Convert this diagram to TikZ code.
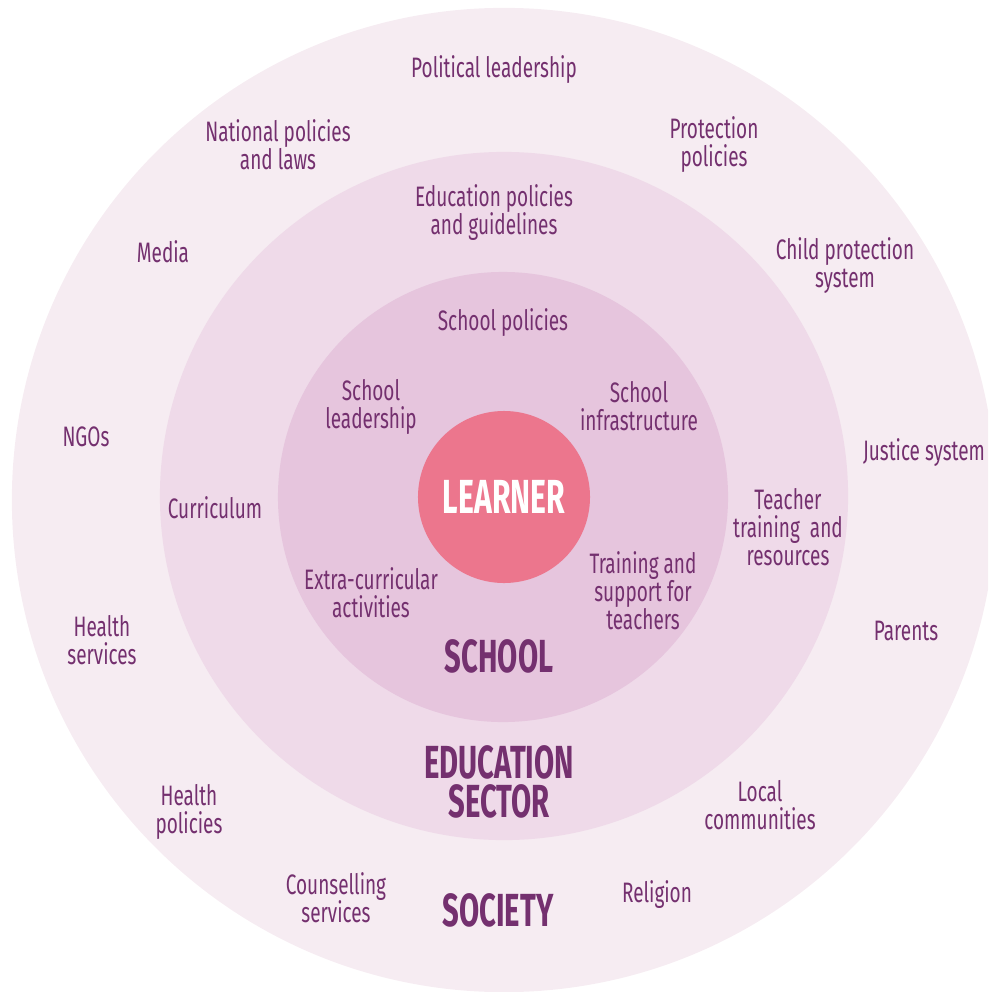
\documentclass[tikz,border=0pt]{standalone}
\usepackage{fontspec}
\setmainfont{Fira Sans}[FakeStretch=0.675]
\newfontfamily\headfont{Fira Sans}[FakeStretch=0.63]
\usetikzlibrary{positioning}
\definecolor{plum}{RGB}{116,48,111}
\definecolor{societypink}{RGB}{246,236,242}
\definecolor{sectorpink}{RGB}{239,218,233}
\definecolor{schoolpink}{RGB}{230,197,221}
\definecolor{learnerpink}{RGB}{236,118,141}
\tikzset{
    base/.style={
        circle,
        draw=none,
        inner sep=0pt,
    },
    % Society
    society/.style={
        base,
        fill=societypink,
        minimum size=24.6cm,
    },
    % Education sector
    sector/.style={
        base,
        fill=sectorpink,
        minimum size=17.2cm,
    },
    % School
    school/.style={
        base,
        fill=schoolpink,
        minimum size=11.25cm,
    },
    % Learner
    learner/.style={
        base,
        fill=learnerpink,
        minimum size=4.3cm,
        text=white,
        font={\headfont\bfseries\fontsize{34}{34}\selectfont},
    },
    % Factor
    factor/.style={
        text=plum,
        align=center,
        inner sep=0pt,
        font={\fontsize{20}{19.9}\selectfont},
    },
    % Level
    level/.style={
        text=plum,
        align=center,
        inner sep=0pt,
        font={\headfont\bfseries\fontsize{33}{28.2}\selectfont},
    },
}

\begin{document}
\begin{tikzpicture}[x=0.025cm,y=-0.025cm]
    \useasboundingbox (0,0) rectangle (988,992);
    \clip (0,0) rectangle (988,992);
%RINGS_BEGIN%
    \node[society] (soc) at (504,500) {};
    \node[sector] (sec) at (504,496) {};
    \node[school] (sch) at (503,497) {};
    \node[learner] (lrn) at (504,497) {LEARNER};
%RINGS_END%

%SOCIETY_BEGIN%
    \node[factor] (pol) at (494,70) {Political leadership};
    \node[factor] (nat) at (278,145) {National policies\\and laws};
    \node[factor] (pro) at (714,145) {Protection\\policies};
    \node[factor] (med) at (163,252) {Media};
    \node[factor] (cps) at (845,266) {Child protection\\system};
    \node[factor] (ngo) at (86,437) {NGOs};
    \node[factor] (jus) at (924,453) {Justice system};
    \node[factor] (hse) at (102,640) {Health\\services};
    \node[factor] (par) at (906,631) {Parents};
    \node[factor] (hpo) at (189,812) {Health\\policies};
    \node[factor] (loc) at (760,805) {Local\\communities};
    \node[factor] (cou) at (336,898) {Counselling\\services};
    \node[factor] (rel) at (657,895) {Religion};
    \node[level] (socl) at (498,910) {SOCIETY};
%SOCIETY_END%

%SECTOR_BEGIN%
    \node[factor] (edp) at (494,213) {Education policies\\and guidelines};
    \node[factor] (cur) at (215,508) {Curriculum};
    \node[factor] (ttr) at (788,527) {Teacher\\training~ and\\resources};
    \node[level] (secl) at (499,782) {EDUCATION\\SECTOR};
%SECTOR_END%

%SCHOOL_BEGIN%
    \node[factor] (scp) at (503,323) {School policies};
    \node[factor] (scl) at (371,407) {School\\leadership};
    \node[factor] (sci) at (639,406) {School\\infrastructure};
    \node[factor] (eca) at (371,593) {Extra-curricular\\activities};
    \node[factor] (tst) at (643,591) {Training and\\support for\\teachers};
    \node[level] (schl) at (499,656) {SCHOOL};
%SCHOOL_END%
\end{tikzpicture}
\end{document}
